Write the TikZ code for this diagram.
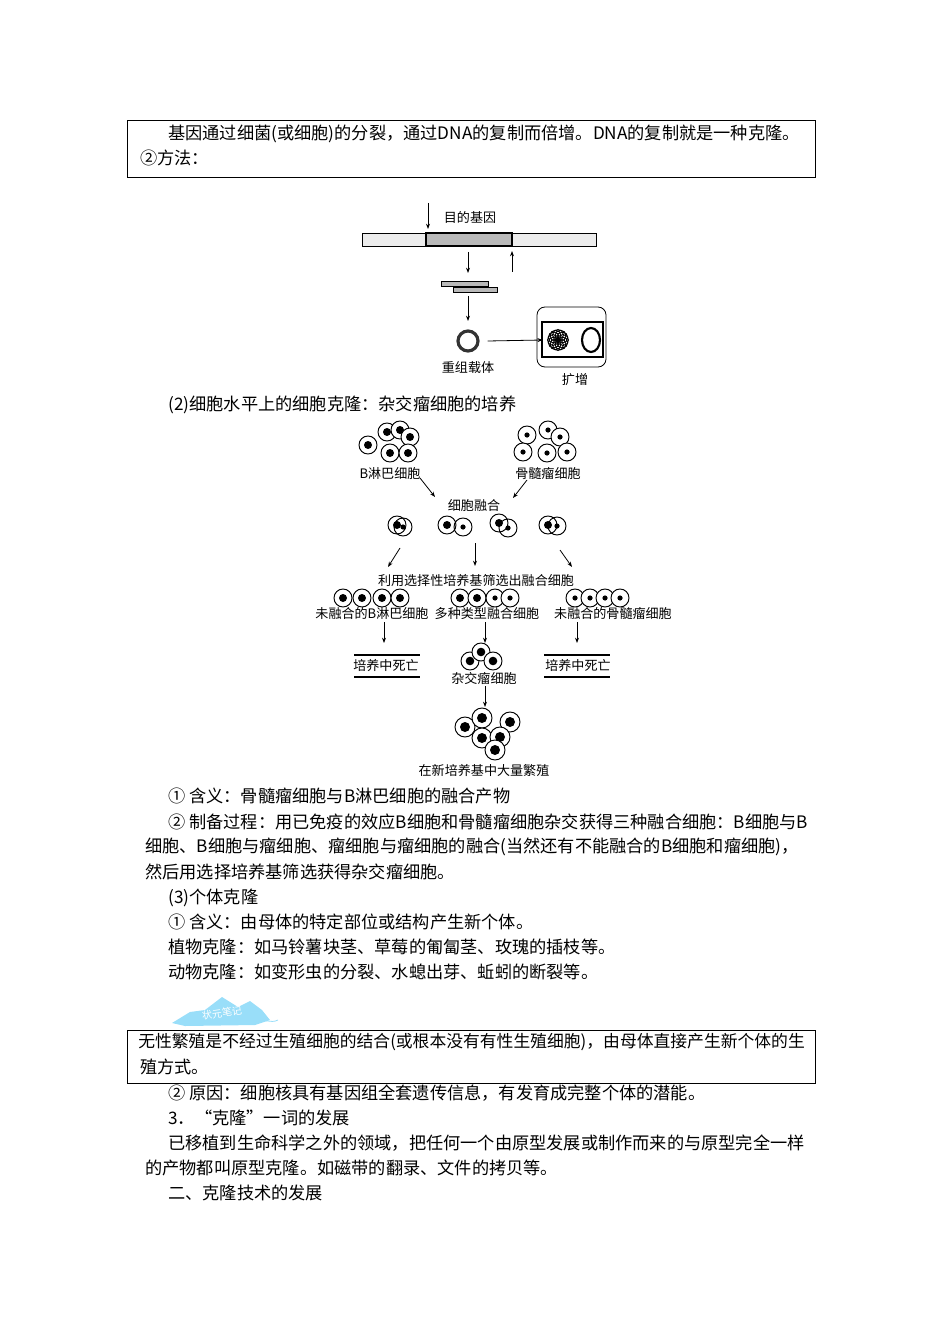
\documentclass[tikz,border=0pt]{standalone}
\usepackage{fontspec}
\setmainfont{Noto Sans CJK SC}
\usetikzlibrary{arrows.meta}
\begin{document}
\begin{tikzpicture}[x=0.75pt,y=-0.75pt,
  txt/.style={anchor=west,inner sep=0,font=\fontsize{12.9}{14}\selectfont},
  lbl/.style={inner sep=0,font=\fontsize{9.8}{11}\selectfont},
  arr/.style={-{Stealth[length=4pt,width=3pt]},line width=0.6pt},
  cellb/.style={draw,line width=0.7pt,fill=white},
  frame/.style={draw,line width=0.6pt}]
\useasboundingbox (0,0) rectangle (950,1344);
\newcommand{\cellA}[3]{\draw[cellb] (#1,#2) circle (9); \fill (#1,#2) circle (#3);}
% box 1
\draw[frame] (127,120) rectangle (815,177);
\node[txt] (t1) at (168,134) {基因通过细菌(或细胞)的分裂，通过DNA的复制而倍增。DNA的复制就是一种克隆。};
\node[txt] (t2) at (140,158) {②方法：};
% gene figure
\draw[fill=gray!15,line width=0.5pt] (362,233) rectangle (596,246);
\draw[fill=gray!55,line width=0.8pt] (426,233) rectangle (512,246);
\coordinate (c1) at (428,203);
\draw[arr] (c1) -- (428,229);
\node[lbl] (g1) at (470,218) {目的基因};
\draw[arr] (468,252) -- (468,273);
\draw[arr] (512,272) -- (512,251);
\draw[fill=gray!55,line width=0.5pt] (441,281) rectangle (488,286);
\draw[fill=gray!55,line width=0.5pt] (453,287) rectangle (497,292);
\draw[arr] (468,296) -- (468,321);
\node[draw=black!80,circle,line width=2.4pt,minimum size=15pt] (ring) at (468,341) {};
\node[lbl] (g2) at (468,368) {重组载体};
\draw[line width=0.6pt,rounded corners=6pt] (537,307) rectangle (606,367);
\draw[line width=1pt] (542,322) rectangle (603,357);
\node[inner sep=0,minimum width=42,minimum height=45] (dish) at (571,340) {};
\draw[arr] (ring.east)++(8,0) -- (dish.west);
\foreach \a in {0,30,...,330}{\draw[line width=0.7pt] (558,340)++(\a:5) circle (5.5);}
\draw[line width=1.6pt] (591,340) ellipse (9 and 12);
\node[lbl] (g3) at (575,380) {扩增};
\node[txt] (t3) at (168,405) {(2)细胞水平上的细胞克隆：杂交瘤细胞的培养};
% cell figure
\foreach \x/\y in {368/445,387/432,400/430,410/437,390/453,408/453}{\cellA{\x}{\y}{4}}
\foreach \x/\y in {527/435,548/430,560/437,523/452,547/453,567/452}{\cellA{\x}{\y}{2.6}}
\node[lbl] (bl) at (390,474) {B淋巴细胞};
\node[lbl] (my) at (548,474) {骨髓瘤细胞};
\node[lbl] (fu) at (474,506) {细胞融合};
\draw[arr] (420,478) -- (435,497);
\draw[arr] (527,480) -- (513,498);
\foreach \x/\y/\u/\v/\r/\s in {397/525/403/527/4/2.6, 447/525/463/527/4/2.6, 499/523/508/528/4/2.6, 548/525/557/526/4/2.6}{
  \draw[cellb] (\x,\y) circle (9); \draw[line width=0.7pt] (\u,\v) circle (9); \fill (\x,\y) circle (\r); \fill (\u,\v) circle (\s);}
\draw[arr] (400,548) -- (388,567);
\draw[arr] (475,543) -- (475,566);
\draw[arr] (560,550) -- (572,567);
\node[lbl] (sel) at (476,581) {利用选择性培养基筛选出融合细胞};
\foreach \x in {343,362,382,400}{\cellA{\x}{598}{4}}
\foreach \x/\r in {460/4,477/4,495/2.6,510/2.6}{\cellA{\x}{598}{\r}}
\foreach \x in {575,590,605,620}{\cellA{\x}{598}{2.6}}
\node[lbl] (u1) at (372,614) {未融合的B淋巴细胞};
\node[lbl] (u2) at (487,614) {多种类型融合细胞};
\node[lbl] (u3) at (613,614) {未融合的骨髓瘤细胞};
\draw[arr] (384,622) -- (384,643);
\draw[arr] (485,622) -- (485,643);
\draw[arr] (577,622) -- (577,643);
\node[lbl] (d1) at (386,666) {培养中死亡};
\node[lbl] (d2) at (578,666) {培养中死亡};
\foreach \a in {354,544}{\draw[line width=2pt] (\a,655) -- ++(66,0); \draw[line width=2pt] (\a,677) -- ++(66,0);}
\foreach \x/\y in {470/661,481/652,493/661}{\cellA{\x}{\y}{4.3}}
\node[lbl] (hy) at (484,678) {杂交瘤细胞};
\draw[arr] (485,686) -- (485,707);
\foreach \x/\y in {465/727,482/718,510/722,482/738,500/737,495/750}{\draw[cellb] (\x,\y) circle (10); \fill (\x,\y) circle (5);}
\node[lbl] (nw) at (484,771) {在新培养基中大量繁殖};
% text
\node[txt] at (168,796) {① 含义：骨髓瘤细胞与B淋巴细胞的融合产物};
\node[txt] at (168,822) {② 制备过程：用已免疫的效应B细胞和骨髓瘤细胞杂交获得三种融合细胞：B细胞与B};
\node[txt] at (145,847) {细胞、B细胞与瘤细胞、瘤细胞与瘤细胞的融合(当然还有不能融合的B细胞和瘤细胞)，};
\node[txt] at (145,872) {然后用选择培养基筛选获得杂交瘤细胞。};
\node[txt] at (168,898) {(3)个体克隆};
\node[txt] at (168,922) {① 含义：由母体的特定部位或结构产生新个体。};
\node[txt] at (168,947) {植物克隆：如马铃薯块茎、草莓的匍匐茎、玫瑰的插枝等。};
\node[txt] at (168,972) {动物克隆：如变形虫的分裂、水螅出芽、蚯蚓的断裂等。};
% badge
\fill[cyan!40] (172,1023) -- (190,1012) -- (205,1010) -- (222,997) -- (238,1007) -- (250,1001) -- (262,1010) -- (270,1020) -- (255,1025) -- (185,1026) -- cycle;
\draw[cyan!40,line width=0.6pt] (258,1022) .. controls (265,1018) and (270,1024) .. (278,1020);
\node[inner sep=0,text=white,font=\fontsize{7.5}{8}\selectfont,rotate=8] (bd) at (222,1013) {状元笔记};
% box 2
\draw[frame] (127,1030) rectangle (815,1083);
\node[txt,font=\fontsize{12.6}{14}\selectfont] at (138,1042) {无性繁殖是不经过生殖细胞的结合(或根本没有有性生殖细胞)，由母体直接产生新个体的生};
\node[txt] at (140,1067) {殖方式。};
\node[txt] at (168,1093) {② 原因：细胞核具有基因组全套遗传信息，有发育成完整个体的潜能。};
\node[txt] at (168,1118) {3．“克隆”一词的发展};
\node[txt] at (168,1143) {已移植到生命科学之外的领域，把任何一个由原型发展或制作而来的与原型完全一样};
\node[txt] at (145,1168) {的产物都叫原型克隆。如磁带的翻录、文件的拷贝等。};
\node[txt] at (168,1193) {二、克隆技术的发展};
\end{tikzpicture}
\end{document}
